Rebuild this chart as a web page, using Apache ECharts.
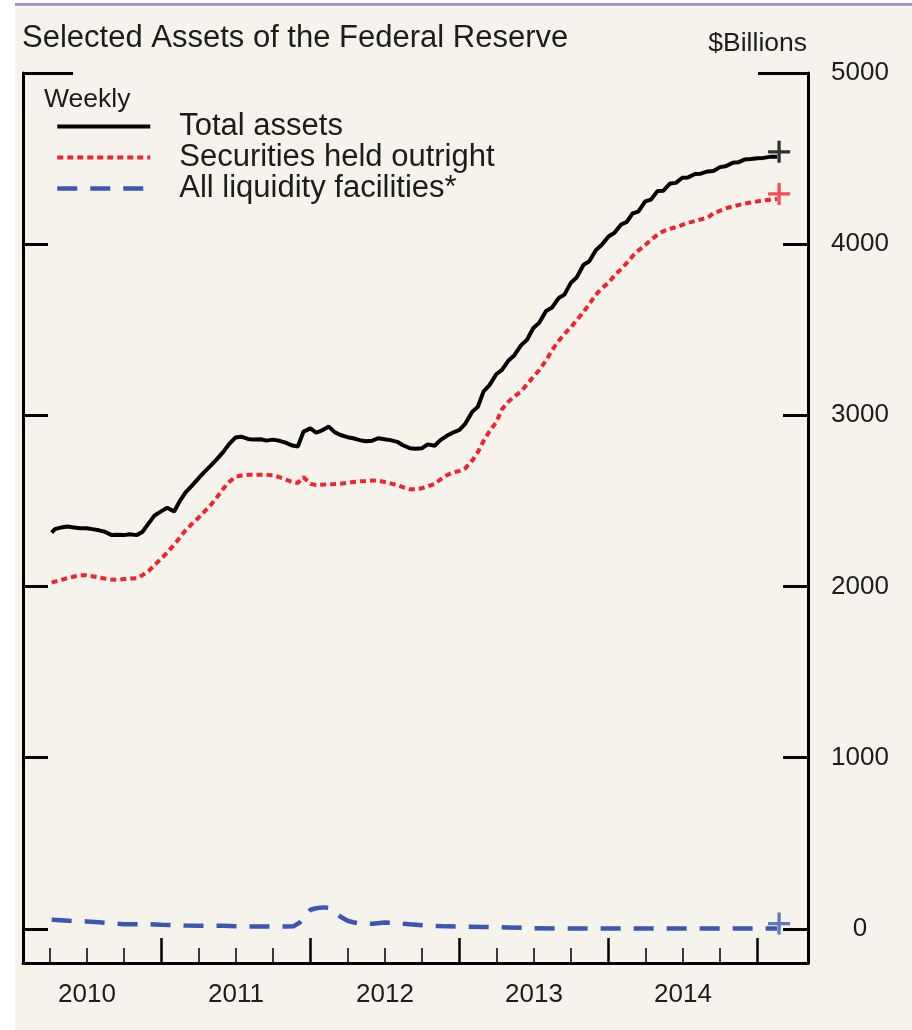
<!DOCTYPE html>
<html><head><meta charset="utf-8">
<script src="https://cdn.jsdelivr.net/npm/echarts@6/dist/echarts.min.js"></script>
<style>html,body{margin:0;padding:0;background:#fff}#c{width:912px;height:1030px}</style>
</head><body><div id="c"></div>
<script>
// ---------- data ($ billions) ----------
const dates = [
 '2010-04-07','2010-04-15','2010-05-01','2010-05-15','2010-06-01','2010-06-15','2010-07-01','2010-07-15','2010-08-01','2010-08-15','2010-09-01','2010-09-15','2010-10-01','2010-10-15','2010-11-01','2010-11-15','2010-12-01','2010-12-15',
 '2011-01-01','2011-01-15','2011-02-01','2011-02-15','2011-03-01','2011-03-15','2011-04-01','2011-04-15','2011-05-01','2011-05-15','2011-06-01','2011-06-15','2011-07-01','2011-07-15','2011-08-01','2011-08-15','2011-09-01','2011-09-15','2011-10-01','2011-10-15','2011-11-01','2011-11-15','2011-12-01','2011-12-15',
 '2012-01-01','2012-01-15','2012-02-01','2012-02-15','2012-03-01','2012-03-15','2012-04-01','2012-04-15','2012-05-01','2012-05-15','2012-06-01','2012-06-15','2012-07-01','2012-07-15','2012-08-01','2012-08-15','2012-09-01','2012-09-15','2012-10-01','2012-10-15','2012-11-01','2012-11-15','2012-12-01','2012-12-15',
 '2013-01-01','2013-01-15','2013-02-01','2013-02-15','2013-03-01','2013-03-15','2013-04-01','2013-04-15','2013-05-01','2013-05-15','2013-06-01','2013-06-15','2013-07-01','2013-07-15','2013-08-01','2013-08-15','2013-09-01','2013-09-15','2013-10-01','2013-10-15','2013-11-01','2013-11-15','2013-12-01','2013-12-15',
 '2014-01-01','2014-01-15','2014-02-01','2014-02-15','2014-03-01','2014-03-15','2014-04-01','2014-04-15','2014-05-01','2014-05-15','2014-06-01','2014-06-15','2014-07-01','2014-07-15','2014-08-01','2014-08-15','2014-09-01','2014-09-15','2014-10-01','2014-10-15','2014-11-01','2014-11-15','2014-12-01','2014-12-15',
 '2015-01-01','2015-01-15','2015-02-01','2015-02-18'
];
const totalAssets = [
 2315,2335,2345,2350,2345,2340,2340,2335,2328,2320,2300,2302,2300,2305,2300,2318,2370,2415,
 2440,2460,2438,2500,2550,2585,2630,2667,2705,2740,2785,2830,2870,2875,2862,2858,2860,2852,2858,2852,2840,2825,2818,2905,
 2924,2898,2915,2934,2900,2885,2872,2866,2855,2848,2852,2866,2860,2855,2845,2825,2808,2805,2808,2830,2822,2855,2880,2898,
 2915,2950,3020,3050,3140,3175,3240,3265,3320,3350,3410,3440,3510,3540,3610,3628,3685,3705,3775,3805,3880,3900,3965,3995,
 4045,4065,4115,4130,4180,4190,4250,4260,4310,4312,4355,4358,4388,4390,4410,4412,4425,4428,4450,4455,4475,4478,4495,4497,
 4502,4504,4510,4510
];
const securitiesOutright = [
 2022,2028,2038,2048,2058,2065,2066,2060,2052,2046,2040,2039,2043,2046,2048,2065,2092,2125,
 2165,2197,2245,2285,2328,2362,2400,2434,2475,2515,2570,2610,2640,2648,2652,2652,2653,2652,2650,2640,2625,2612,2605,2638,
 2600,2592,2595,2597,2598,2600,2605,2610,2614,2616,2619,2618,2610,2602,2592,2580,2568,2568,2574,2585,2600,2625,2650,2665,
 2675,2690,2735,2785,2850,2905,2960,3035,3080,3110,3140,3180,3225,3263,3320,3378,3435,3475,3515,3555,3605,3650,3705,3740,
 3775,3815,3855,3890,3930,3962,3995,4025,4055,4075,4090,4100,4112,4125,4135,4145,4155,4180,4195,4210,4220,4228,4237,4243,
 4250,4255,4260,4264
];
const liquidityDates = [
 '2010-04-07','2010-05-01','2010-06-01','2010-07-01','2010-08-01','2010-09-01','2010-10-01','2010-11-01','2010-12-01',
 '2011-01-01','2011-02-01','2011-03-01','2011-04-01','2011-05-01','2011-06-01','2011-07-01','2011-08-01','2011-09-01','2011-10-01','2011-11-01','2011-11-20','2011-12-05','2011-12-20',
 '2012-01-01','2012-01-15','2012-02-01','2012-02-15','2012-03-01','2012-03-15','2012-04-01','2012-04-15','2012-05-01','2012-06-01','2012-07-01','2012-08-01','2012-09-01','2012-10-01','2012-11-01','2012-12-01',
 '2013-01-01','2013-03-01','2013-05-01','2013-07-01','2013-09-01','2013-12-01','2014-03-01','2014-06-01','2014-09-01','2014-12-01','2015-02-18'
];
const liquidityFacilities = [
 53,50,45,43,38,32,27,27,27,
 24,22,19,18,17,17,15,13,13,13,13,14,35,75,
 111,120,125,122,95,70,47,38,31,29,36,33,26,21,17,14,
 13,11,8,3,1,1,1,1,1,1,1
];
const yearLabels = ['2010','2011','2012','2013','2014'];
const yTickValues = [0,1000,2000,3000,4000];
const yLabelValues = [0,1000,2000,3000,4000,5000];
const seriesNames = ['Total assets','Securities held outright','All liquidity facilities*'];

// ---------- helpers ----------
function toYear(s){const p=s.split('-').map(Number);const t=Date.UTC(p[0],p[1]-1,p[2]),a=Date.UTC(p[0],0,1),b=Date.UTC(p[0]+1,0,1);return p[0]+(t-a)/(b-a);}
const pairs=(ds,vs)=>ds.map((d,i)=>[toYear(d),vs[i]]);
const X_MIN=2010.0705, X_MAX=2015.339;
const majorTicks=yearLabels.map(y=>+y+1);
const labelPos=yearLabels.map(y=>+y+0.5);
const minorTicks=[];yearLabels.forEach(y=>{[0.25,0.5,0.75].forEach(q=>minorTicks.push(+y+q));});
const FONT='"Liberation Sans", Arial, Helvetica, sans-serif';
const TXT='#1c1c1c';
const PLUS='path://M8.5,0H11.5V8.5H20V11.5H11.5V20H8.5V11.5H0V8.5H8.5Z';
const C_BLACK='#000', C_RED='#f2232b', C_BLUE='#3a58b2';

const black=pairs(dates,totalAssets), red=pairs(dates,securitiesOutright), blue=pairs(liquidityDates,liquidityFacilities);
const last=a=>a[a.length-1];

const yBase={type:'value',min:-200,max:5000,splitLine:{show:false},axisLabel:{show:false}};
const chart=echarts.init(document.getElementById('c'),null,{renderer:'canvas'});
chart.setOption({
 backgroundColor:'#f6f3ed',
 animation:false,
 textStyle:{fontFamily:FONT},
 graphic:[
  {type:'rect',silent:true,shape:{x:0,y:0,width:15,height:1030},style:{fill:'#ffffff'}},
  {type:'rect',silent:true,shape:{x:0,y:0,width:912,height:7},style:{fill:'#ffffff'}},
  {type:'rect',silent:true,shape:{x:15,y:3,width:897,height:3},style:{fill:'#a596d0'}}
 ],
 title:[
  {text:'Selected Assets of the Federal Reserve',left:22,top:23,padding:0,textStyle:{fontSize:31,fontWeight:'normal',color:TXT,fontFamily:FONT}},
  {text:'$Billions',right:105,top:30,padding:0,textStyle:{fontSize:26.5,fontWeight:'normal',color:TXT,fontFamily:FONT}},
  {text:'Weekly',left:44,top:86,padding:0,textStyle:{fontSize:26.5,fontWeight:'normal',color:TXT,fontFamily:FONT}}
 ],
 legend:{data:seriesNames.map((n,i)=>({name:n,lineStyle:{width:i===2?4.5:4,type:i===0?'solid':(i===1?[6,4]:[20,13])}})),
  orient:'vertical',left:55,top:111,padding:0,itemWidth:93,itemHeight:14,itemGap:0,
  selectedMode:false,itemStyle:{opacity:0},
  textStyle:{fontSize:31,color:TXT,fontFamily:FONT,lineHeight:29.2,padding:[0,0,0,24]}},
 grid:{left:23,right:104,top:73,bottom:67},
 xAxis:[
  {type:'value',min:X_MIN,max:X_MAX,position:'bottom',splitLine:{show:false},
   axisLine:{show:true,onZero:false,lineStyle:{color:'#000',width:3}},
   axisTick:{show:true,inside:true,length:25,customValues:majorTicks,lineStyle:{color:'#000',width:2.5}},
   axisLabel:{show:true,customValues:labelPos,formatter:v=>String(Math.floor(v+1e-6)),fontSize:26,color:TXT,fontFamily:FONT,margin:19}},
  {type:'value',min:X_MIN,max:X_MAX,position:'bottom',splitLine:{show:false},
   axisLine:{show:false,onZero:false},
   axisTick:{show:true,inside:true,length:15,customValues:minorTicks,lineStyle:{color:'#000',width:1.5}},
   axisLabel:{show:false}}
 ],
 yAxis:[
  Object.assign({},yBase,{position:'left',axisLine:{show:true,onZero:false,lineStyle:{color:'#000',width:3}},
   axisTick:{show:true,inside:true,length:25,customValues:yTickValues,lineStyle:{color:'#000',width:3}}}),
  Object.assign({},yBase,{position:'right',axisLine:{show:true,onZero:false,lineStyle:{color:'#000',width:3}},
   axisTick:{show:true,inside:true,length:25,customValues:yTickValues,lineStyle:{color:'#000',width:3}},
   axisLabel:{show:true,customValues:yLabelValues,formatter:v=>String(v),align:'center',margin:52,fontSize:26,color:TXT,fontFamily:FONT}}),
  Object.assign({},yBase,{position:'left',axisLine:{show:false,onZero:false},
   axisTick:{show:true,inside:true,length:50,customValues:[5000],lineStyle:{color:'#000',width:3}}}),
  Object.assign({},yBase,{position:'right',axisLine:{show:false,onZero:false},
   axisTick:{show:true,inside:true,length:50,customValues:[5000],lineStyle:{color:'#000',width:3}}})
 ],
 series:[
  {name:seriesNames[0],type:'line',data:black,showSymbol:false,symbol:'none',z:5,
   lineStyle:{color:C_BLACK,width:4},itemStyle:{color:C_BLACK}},
  {name:seriesNames[1],type:'line',data:red,showSymbol:false,symbol:'none',z:4,
   lineStyle:{color:C_RED,width:4,type:[6,4]},itemStyle:{color:C_RED}},
  {name:seriesNames[2],type:'line',data:blue,showSymbol:false,symbol:'none',z:4,
   lineStyle:{color:C_BLUE,width:4.5,type:[20,13]},itemStyle:{color:C_BLUE}},
  {type:'scatter',silent:true,z:6,symbol:PLUS,symbolSize:22,symbolOffset:[2,-5],clip:false,
   data:[{value:last(black),itemStyle:{color:C_BLACK}},{value:last(red),itemStyle:{color:C_RED}},{value:last(blue),itemStyle:{color:C_BLUE}}]}
 ]
});
</script></body></html>
